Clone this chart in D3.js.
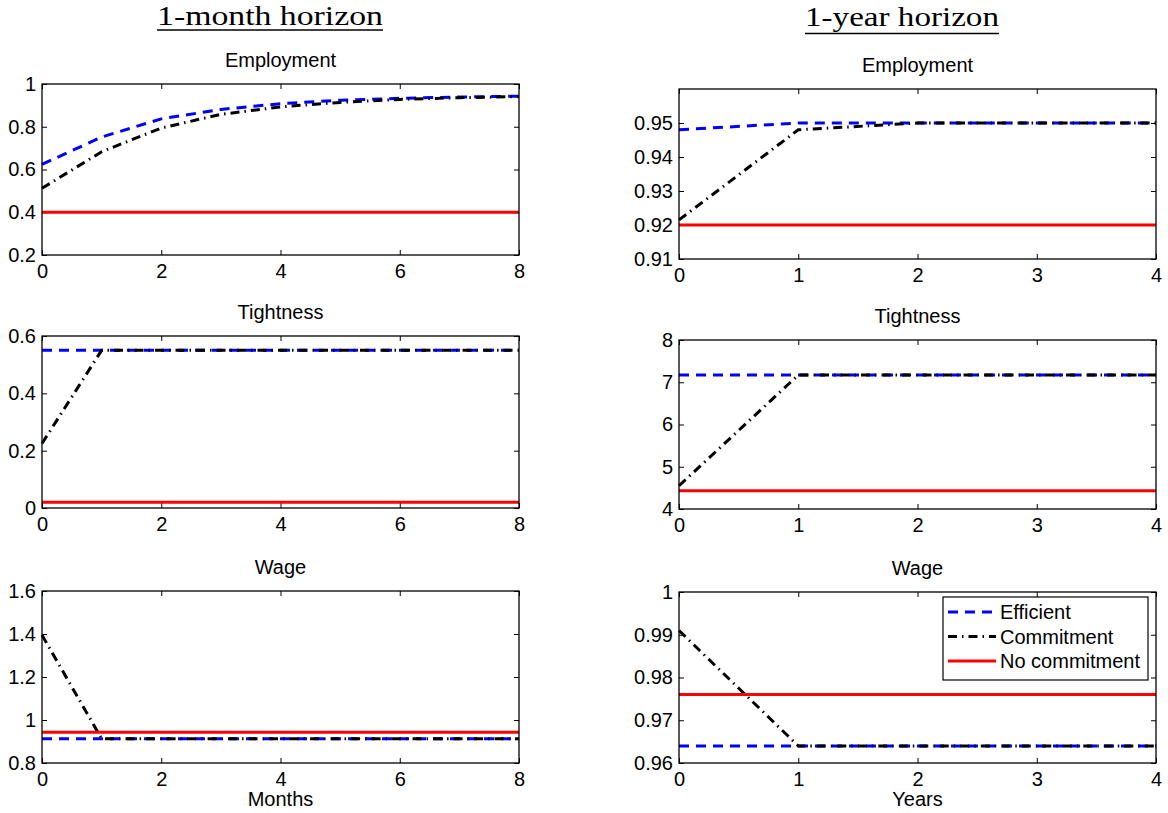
<!DOCTYPE html>
<html>
<head>
<meta charset="utf-8">
<script src="https://cdn.jsdelivr.net/npm/d3@7"></script>
<style>
  body { margin: 0; background: #fff; }
  text { font-family: "Liberation Sans", Arial, Helvetica, sans-serif; }
</style>
</head>
<body>
<div id="chart"></div>
<script>
const WIDTH = 1168;
const HEIGHT = 813;

// x values
const monthsX = [0, 1, 2, 3, 4, 5, 6, 7, 8];
const yearsX = [0, 1, 2, 3, 4];

// 1-month horizon
const empMonthEfficient = [0.624, 0.752, 0.837, 0.881, 0.908, 0.924, 0.933, 0.939, 0.943];
const empMonthCommitment = [0.512, 0.683, 0.794, 0.858, 0.893, 0.914, 0.928, 0.936, 0.941];
const empMonthNoCommitment = [0.40, 0.40, 0.40, 0.40, 0.40, 0.40, 0.40, 0.40, 0.40];

const tightMonthEfficient = [0.55, 0.55, 0.55, 0.55, 0.55, 0.55, 0.55, 0.55, 0.55];
const tightMonthCommitment = [0.225, 0.55, 0.55, 0.55, 0.55, 0.55, 0.55, 0.55, 0.55];
const tightMonthNoCommitment = [0.02, 0.02, 0.02, 0.02, 0.02, 0.02, 0.02, 0.02, 0.02];

const wageMonthEfficient = [0.913, 0.913, 0.913, 0.913, 0.913, 0.913, 0.913, 0.913, 0.913];
const wageMonthCommitment = [1.395, 0.913, 0.913, 0.913, 0.913, 0.913, 0.913, 0.913, 0.913];
const wageMonthNoCommitment = [0.943, 0.943, 0.943, 0.943, 0.943, 0.943, 0.943, 0.943, 0.943];

// 1-year horizon
const empYearEfficient = [0.948, 0.950, 0.950, 0.950, 0.950];
const empYearCommitment = [0.9215, 0.948, 0.950, 0.950, 0.950];
const empYearNoCommitment = [0.920, 0.920, 0.920, 0.920, 0.920];

const tightYearEfficient = [7.17, 7.17, 7.17, 7.17, 7.17];
const tightYearCommitment = [4.55, 7.17, 7.17, 7.17, 7.17];
const tightYearNoCommitment = [4.43, 4.43, 4.43, 4.43, 4.43];

const wageYearEfficient = [0.964, 0.964, 0.964, 0.964, 0.964];
const wageYearCommitment = [0.991, 0.964, 0.964, 0.964, 0.964];
const wageYearNoCommitment = [0.976, 0.976, 0.976, 0.976, 0.976];

// tick labels
const monthTicks = [0, 2, 4, 6, 8];
const yearTicks = [0, 1, 2, 3, 4];
const empMonthTicks = [0.2, 0.4, 0.6, 0.8, 1];
const tightMonthTicks = [0, 0.2, 0.4, 0.6];
const wageMonthTicks = [0.8, 1, 1.2, 1.4, 1.6];
const empYearTicks = [0.91, 0.92, 0.93, 0.94, 0.95];
const tightYearTicks = [4, 5, 6, 7, 8];
const wageYearTicks = [0.96, 0.97, 0.98, 0.99, 1];

const seriesNames = ["Efficient", "Commitment", "No commitment"];
const seriesStyle = {
  "Efficient": { color: "#0000ff", dash: "10,7", width: 3 },
  "Commitment": { color: "#000000", dash: "9,5,1.5,5", width: 3 },
  "No commitment": { color: "#ff0000", dash: null, width: 3 }
};

const panels = [
  { title: "Employment", xs: monthsX, xDomain: [0, 8], xTicks: monthTicks, yDomain: [0.2, 1], yTicks: empMonthTicks,
    series: [empMonthEfficient, empMonthCommitment, empMonthNoCommitment], box: [42, 519, 84, 255] },
  { title: "Tightness", xs: monthsX, xDomain: [0, 8], xTicks: monthTicks, yDomain: [0, 0.6], yTicks: tightMonthTicks,
    series: [tightMonthEfficient, tightMonthCommitment, tightMonthNoCommitment], box: [42, 519, 336, 508] },
  { title: "Wage", xs: monthsX, xDomain: [0, 8], xTicks: monthTicks, yDomain: [0.8, 1.6], yTicks: wageMonthTicks,
    series: [wageMonthEfficient, wageMonthCommitment, wageMonthNoCommitment], box: [42, 519, 591, 763], xLabel: "Months" },
  { title: "Employment", xs: yearsX, xDomain: [0, 4], xTicks: yearTicks, yDomain: [0.91, 0.96], yTicks: empYearTicks,
    series: [empYearEfficient, empYearCommitment, empYearNoCommitment], box: [679, 1156, 89, 259] },
  { title: "Tightness", xs: yearsX, xDomain: [0, 4], xTicks: yearTicks, yDomain: [4, 8], yTicks: tightYearTicks,
    series: [tightYearEfficient, tightYearCommitment, tightYearNoCommitment], box: [679, 1156, 340, 509] },
  { title: "Wage", xs: yearsX, xDomain: [0, 4], xTicks: yearTicks, yDomain: [0.96, 1], yTicks: wageYearTicks,
    series: [wageYearEfficient, wageYearCommitment, wageYearNoCommitment], box: [679, 1156, 592, 763], xLabel: "Years", legend: true }
];

const svg = d3.select("#chart")
  .append("svg")
  .attr("width", WIDTH)
  .attr("height", HEIGHT)
  .attr("viewBox", [0, 0, WIDTH, HEIGHT]);

svg.append("rect").attr("width", WIDTH).attr("height", HEIGHT).attr("fill", "#fff");

// column headings (LaTeX style, underlined)
const headings = [
  { text: "1-month horizon", x: 270, y: 25, underline: [157, 383, 30] },
  { text: "1-year horizon", x: 902, y: 26, underline: [805, 999, 33.5] }
];
headings.forEach(h => {
  svg.append("text")
    .attr("x", h.x)
    .attr("y", h.y)
    .attr("text-anchor", "middle")
    .style("font-family", "'Liberation Serif', 'DejaVu Serif', serif")
    .style("font-size", "28px")
    .attr("textLength", h.underline[1] - h.underline[0])
    .attr("lengthAdjust", "spacingAndGlyphs")
    .text(h.text);
  svg.append("line")
    .attr("x1", h.underline[0]).attr("x2", h.underline[1])
    .attr("y1", h.underline[2]).attr("y2", h.underline[2])
    .attr("stroke", "#000").attr("stroke-width", 1.6);
});

const fmt = d3.format("~g");

panels.forEach(p => {
  const [x0, x1, y0, y1] = p.box;
  const x = d3.scaleLinear().domain(p.xDomain).range([x0, x1]);
  const y = d3.scaleLinear().domain(p.yDomain).range([y1, y0]);

  const g = svg.append("g");

  // title
  g.append("text")
    .attr("x", (x0 + x1) / 2)
    .attr("y", y0 - 17)
    .attr("text-anchor", "middle")
    .style("font-size", "20px")
    .text(p.title);

  // ticks on all four sides, pointing inward
  const axB = g.append("g").attr("transform", `translate(0,${y1})`)
    .call(d3.axisBottom(x).tickValues(p.xTicks).tickFormat(fmt).tickSize(-5).tickPadding(9));
  const axT = g.append("g").attr("transform", `translate(0,${y0})`)
    .call(d3.axisTop(x).tickValues(p.xTicks).tickFormat("").tickSize(-5));
  const axL = g.append("g").attr("transform", `translate(${x0},0)`)
    .call(d3.axisLeft(y).tickValues(p.yTicks).tickFormat(fmt).tickSize(-5).tickPadding(6));
  const axR = g.append("g").attr("transform", `translate(${x1},0)`)
    .call(d3.axisRight(y).tickValues(p.yTicks).tickFormat("").tickSize(-5));

  [axB, axT, axL, axR].forEach(a => {
    a.select(".domain").remove();
    a.selectAll("line").attr("stroke", "#000").attr("stroke-width", 1);
    a.selectAll("text")
      .style("font-family", "'Liberation Sans', Arial, Helvetica, sans-serif")
      .style("font-size", "20px")
      .attr("fill", "#000");
  });

  // series lines
  const line = d3.line().x((d, i) => x(p.xs[i])).y(d => y(d));
  p.series.forEach((vals, i) => {
    const st = seriesStyle[seriesNames[i]];
    g.append("path")
      .datum(vals)
      .attr("fill", "none")
      .attr("stroke", st.color)
      .attr("stroke-width", st.width)
      .attr("stroke-dasharray", st.dash)
      .attr("d", line);
  });

  // frame
  g.append("rect")
    .attr("x", x0).attr("y", y0)
    .attr("width", x1 - x0).attr("height", y1 - y0)
    .attr("fill", "none")
    .attr("stroke", "#000")
    .attr("stroke-width", 1.3);

  if (p.xLabel) {
    g.append("text")
      .attr("x", (x0 + x1) / 2)
      .attr("y", y1 + 43)
      .attr("text-anchor", "middle")
      .style("font-size", "20px")
      .text(p.xLabel);
  }

  if (p.legend) {
    const lg = g.append("g").attr("transform", "translate(943,597)");
    lg.append("rect")
      .attr("width", 205).attr("height", 83)
      .attr("fill", "#fff").attr("stroke", "#000").attr("stroke-width", 1.2);
    seriesNames.forEach((name, i) => {
      const st = seriesStyle[name];
      const ly = 15 + i * 24.5;
      lg.append("line")
        .attr("x1", 5).attr("x2", 53)
        .attr("y1", ly).attr("y2", ly)
        .attr("stroke", st.color)
        .attr("stroke-width", st.width)
        .attr("stroke-dasharray", st.dash);
      lg.append("text")
        .attr("x", 57).attr("y", ly + 7)
        .style("font-size", "20px")
        .text(name);
    });
  }
});
</script>
</body>
</html>
